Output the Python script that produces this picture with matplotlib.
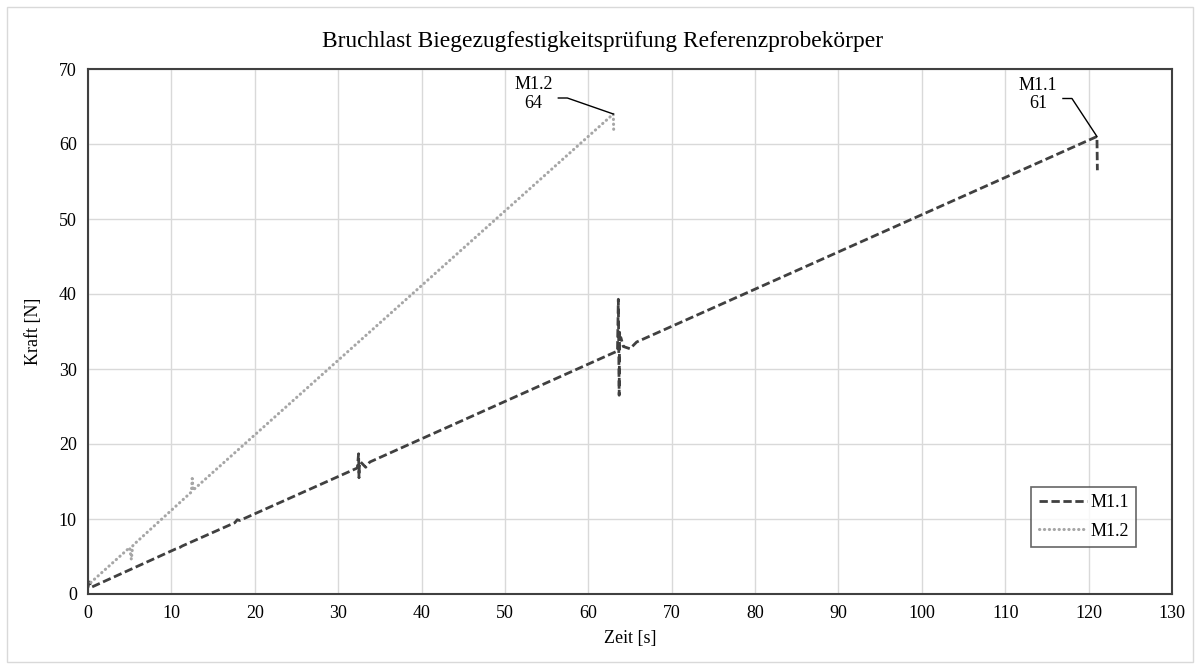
import matplotlib
matplotlib.use("Agg")
import matplotlib.pyplot as plt
from matplotlib.patches import Rectangle
from matplotlib.lines import Line2D

plt.rcParams['font.family'] = ['Liberation Serif', 'DejaVu Serif']

# Messreihe M1.1 (Zeit in s, Kraft in N)
m11_t = [0, 0.2, 0.4, 10.5, 11.0, 11.3, 17.6, 17.9, 18.2, 32.3, 32.45, 32.5,
         32.55, 32.7, 33.3, 33.8, 63.5, 63.6, 63.7, 63.75, 63.8, 63.9, 64.2,
         65.0, 65.8, 121.0, 121.05]
m11_F = [0.9, 1.6, 0.9, 6.0, 6.2, 6.4, 9.5, 9.9, 9.8, 16.8, 18.7, 15.5,
         17.4, 17.6, 16.9, 17.6, 32.4, 39.3, 26.5, 34.9, 33.9, 34.2, 33.0,
         32.7, 33.6, 61.0, 56.5]

# Messreihe M1.2
m12_t = [0, 0.3, 5.0, 5.2, 5.35, 5.5, 12.4, 12.5, 12.6, 12.75, 63.0, 63.05]
m12_F = [1.0, 1.5, 6.2, 4.6, 6.4, 6.6, 13.6, 15.4, 13.8, 14.0, 64.0, 61.5]

x_ticks = list(range(0, 131, 10))
y_ticks = list(range(0, 71, 10))

title = "Bruchlast Biegezugfestigkeitsprüfung Referenzprobekörper"

W, H = 1201, 667
fig = plt.figure(figsize=(W / 100, H / 100), dpi=100)
fig.patch.set_facecolor("white")

# light frame around the whole chart area
fig.add_artist(Rectangle((7 / W, 5 / H), (1193 - 7) / W, (660 - 5) / H,
                         transform=fig.transFigure, fill=False,
                         edgecolor="#d9d9d9", linewidth=1.0))

ax = fig.add_axes([88 / W, (H - 594) / H, (1172 - 88) / W, (594 - 69) / H])
ax.set_xlim(0, 130)
ax.set_ylim(0, 70)
ax.set_xticks(x_ticks)
ax.set_yticks(y_ticks)
ax.grid(True, color="#d9d9d9", linewidth=1.0)
ax.set_axisbelow(True)
for s in ax.spines.values():
    s.set_color("#404040")
    s.set_linewidth(1.5)
ax.tick_params(length=0, labelsize=13, colors="black", pad=8)

l1, = ax.plot(m11_t, m11_F, color="#404040", linewidth=2.0,
              linestyle=(0, (3.0, 1.3)), label="M1.1")
l2, = ax.plot(m12_t, m12_F, color="#a6a6a6", linewidth=2.2,
              linestyle=(0, (0.1, 1.5)), dash_capstyle="round", label="M1.2")

ax.set_xlabel("Zeit [s]", fontsize=13, labelpad=6)
ax.set_ylabel("Kraft [N]", fontsize=13, labelpad=12)
fig.text(603 / W, 1 - 41 / H, title, ha="center", va="center", fontsize=16.9)

leg = ax.legend(handles=[l1, l2], loc="lower right",
                bbox_to_anchor=(1136 / W, (H - 547) / H),
                bbox_transform=fig.transFigure, fontsize=13, frameon=True,
                fancybox=False, handlelength=2.7, handletextpad=0.15,
                borderpad=0.4, labelspacing=0.65, borderaxespad=0)
leg.get_frame().set_edgecolor("#404040")
leg.get_frame().set_linewidth(1.2)


def label_peak(t, F, name, dx_k, dy_k, dx_h, dx_t, dy_t):
    """Leader line (in pixel offsets) and two-line label at the peak."""
    px, py = ax.transData.transform((t, F))
    xs = [px, px + dx_k, px + dx_h]
    ys = [py, py + dy_k, py + dy_k]
    fig.add_artist(Line2D(xs, ys, transform=None, color="black",
                          linewidth=1.0))
    fig.text((px + dx_t) / W, (py + dy_t) / H, f"{name}\n{F:.0f}",
             ha="center", va="center", fontsize=13, linespacing=1.15)


i12 = m12_F.index(max(m12_F))
i11 = m11_F.index(max(m11_F))
label_peak(m12_t[i12], m12_F[i12], "M1.2", -46, 16, -55, -80, 20)
label_peak(m11_t[i11], m11_F[i11], "M1.1", -25, 38, -34, -59, 42)

fig.savefig("out.png", dpi=100)
